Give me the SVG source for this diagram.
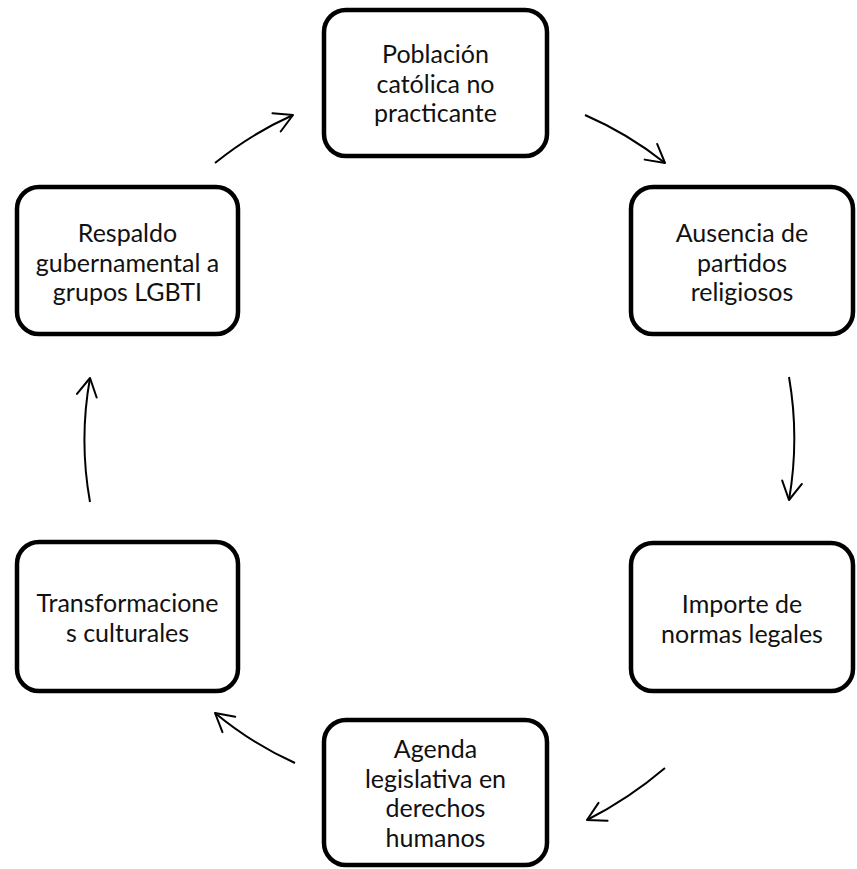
<svg xmlns="http://www.w3.org/2000/svg" width="857" height="869" viewBox="0 0 857 869">
<style>
.box{fill:#fff;stroke:#000;stroke-width:4.5}
.lbl{font-family:Lato,"Liberation Sans",sans-serif;font-size:25px;fill:#111;text-anchor:middle}
.arr{fill:none;stroke:#000;stroke-width:2;marker-end:url(#ah)}
</style>
<defs>
<marker id="ah" markerUnits="userSpaceOnUse" markerWidth="24" markerHeight="24" viewBox="-2 -2 24 24" refX="18" refY="10" orient="auto">
<path d="M0,0 L18,10 L0,20" fill="none" stroke="#000" stroke-width="2" stroke-linecap="round" stroke-linejoin="round"/>
</marker>
</defs>
<rect width="857" height="869" fill="#fff"/>
<g id="connectors">
<path class="arr" d="M215,163 A354,354 0 0 1 293,115"/>
<path class="arr" d="M585,115 A356,356 0 0 1 665,163"/>
<path class="arr" d="M789,377 A360,360 0 0 1 789,500"/>
<path class="arr" d="M665,768 A400,400 0 0 1 587,820"/>
<path class="arr" d="M295,763 A354,354 0 0 1 215,713"/>
<path class="arr" d="M90,502 A350,350 0 0 1 90,378"/>
</g>
<g id="n1">
<rect class="box" x="324" y="10" width="223" height="146" rx="22"/>
<text class="lbl" x="435.5" y="63"><tspan x="435.5">Población</tspan><tspan x="435.5" dy="29.5">católica no</tspan><tspan x="435.5" dy="29.5">practicante</tspan></text>
</g>
<g id="n2">
<rect class="box" x="631" y="187" width="222" height="147" rx="22"/>
<text class="lbl" x="742" y="242"><tspan x="742">Ausencia de</tspan><tspan x="742" dy="29.5">partidos</tspan><tspan x="742" dy="29.5">religiosos</tspan></text>
</g>
<g id="n3">
<rect class="box" x="631" y="543" width="222" height="148" rx="22"/>
<text class="lbl" x="742" y="613"><tspan x="742">Importe de</tspan><tspan x="742" dy="29.5">normas legales</tspan></text>
</g>
<g id="n4">
<rect class="box" x="324" y="720" width="223" height="145" rx="22"/>
<text class="lbl" x="435.5" y="758"><tspan x="435.5">Agenda</tspan><tspan x="435.5" dy="29.5">legislativa en</tspan><tspan x="435.5" dy="29.5">derechos</tspan><tspan x="435.5" dy="29.5">humanos</tspan></text>
</g>
<g id="n5">
<rect class="box" x="17" y="542" width="221" height="149" rx="22"/>
<text class="lbl" x="127.5" y="612"><tspan x="127.5">Transformacione</tspan><tspan x="127.5" dy="29.5">s culturales</tspan></text>
</g>
<g id="n6">
<rect class="box" x="17" y="187" width="221" height="147" rx="22"/>
<text class="lbl" x="127.5" y="242"><tspan x="127.5">Respaldo</tspan><tspan x="127.5" dy="29.5">gubernamental a</tspan><tspan x="127.5" dy="29.5">grupos LGBTI</tspan></text>
</g>
</svg>
